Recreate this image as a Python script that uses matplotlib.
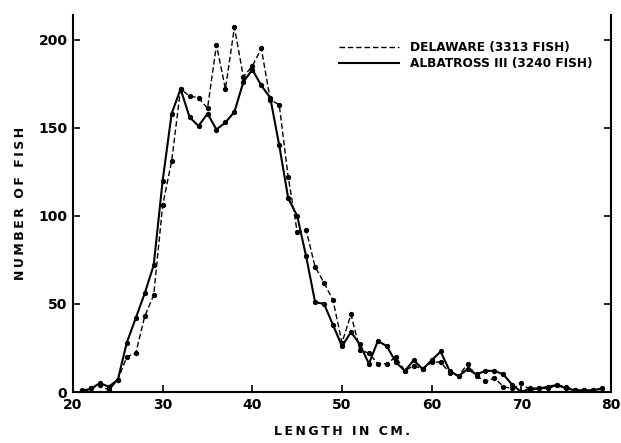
import matplotlib
matplotlib.use("Agg")
import matplotlib.pyplot as plt
from matplotlib.lines import Line2D

lengths = list(range(21, 80))
albatross = [0, 2, 5, 3, 7, 28, 42, 56, 72, 120, 158, 172, 156, 151, 158, 149, 153, 159,
             176, 183, 174, 167, 140, 110, 100, 77, 51, 50, 38, 26, 34, 27, 16, 29, 26, 17,
             12, 18, 13, 18, 23, 12, 9, 13, 10, 12, 12, 10, 4, 0, 2, 2, 3, 4, 2, 1, 1, 1, 2]
delaware = [1, 2, 4, 1, 7, 20, 22, 43, 55, 106, 131, 172, 168, 167, 161, 197, 172, 207,
            179, 185, 195, 166, 163, 122, 91, 92, 71, 62, 52, 28, 44, 24, 22, 16, 16, 20,
            12, 15, 13, 17, 17, 11, 9, 16, 9, 6, 8, 3, 2, 5, 1, 2, 2, 4, 3, 1, 1, 1, 0]
xticks = [20, 30, 40, 50, 60, 70, 80]
yticks = [0, 50, 100, 150, 200]
legend_labels = ["DELAWARE (3313 FISH)", "ALBATROSS III (3240 FISH)"]

fig = plt.figure(figsize=(6.21, 4.43), dpi=100)
ax = fig.add_axes([73/621, 1-392/443, (611-73)/621, (392-15)/443])

ax.plot(lengths, delaware, color="black", lw=1.0, ls=(0, (4, 2)), marker="o",
        markersize=2.8, zorder=3)
ax.plot(lengths, albatross, color="black", lw=1.5, ls="-", marker="o",
        markersize=2.8, zorder=3)

ax.set_xlim(20, 80)
ax.set_ylim(0, 214)
ax.set_xticks(xticks)
ax.set_yticks(yticks)
ax.tick_params(direction="in", length=5, width=1.2, labelsize=10, pad=4,
               right=True, top=False)
for lab in ax.get_xticklabels() + ax.get_yticklabels():
    lab.set_fontweight("semibold")
ax.spines["top"].set_visible(False)
for s in ["left", "bottom", "right"]:
    ax.spines[s].set_linewidth(1.5)

thin = "\u2009"
ax.set_ylabel(thin.join("NUMBER OF FISH"), fontsize=9, fontweight="semibold", labelpad=8)
ax.set_xlabel(thin.join("LENGTH IN CM."), fontsize=9, fontweight="semibold", labelpad=10)

handles = [Line2D([], [], color="black", lw=1.0, ls=(0, (4, 2))),
           Line2D([], [], color="black", lw=1.5, ls="-")]
leg = ax.legend(handles, legend_labels, loc="upper right",
                bbox_to_anchor=(0.985, 0.96), frameon=False, handlelength=4.9,
                handletextpad=0.9, labelspacing=0.25,
                prop={"size": 8.7, "weight": "bold"})

fig.savefig("out.png", dpi=100)
